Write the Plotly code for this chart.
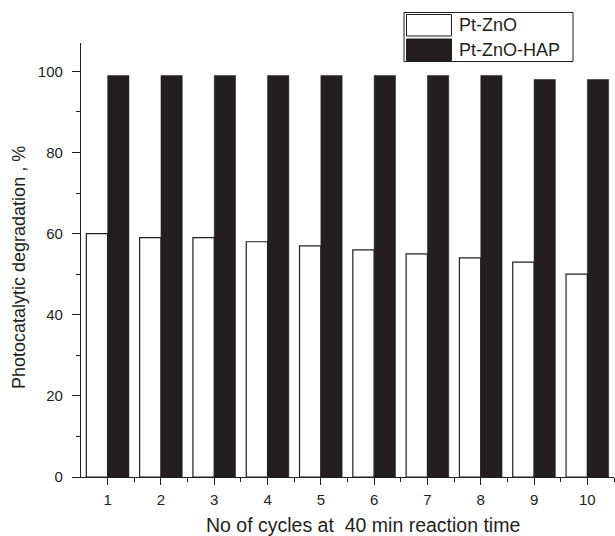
import plotly.graph_objects as go

cycles = [1, 2, 3, 4, 5, 6, 7, 8, 9, 10]
pt_zno = [60, 59, 59, 58, 57, 56, 55, 54, 53, 50]
pt_zno_hap = [99, 99, 99, 99, 99, 99, 99, 99, 98, 98]
series_names = ["Pt-ZnO", "Pt-ZnO-HAP"]
y_ticks = [0, 20, 40, 60, 80, 100]
x_title = "No of cycles at \u00a040 min reaction time"
y_title = "Photocatalytic degradation , %"

INK = "#231f20"
FONT = "Liberation Sans, Arial, sans-serif"

fig = go.Figure()
fig.add_trace(go.Bar(x=cycles, y=pt_zno, name=series_names[0],
                     marker=dict(color="white", line=dict(color=INK, width=1.2)),
                     showlegend=False))
fig.add_trace(go.Bar(x=cycles, y=pt_zno_hap, name=series_names[1],
                     marker=dict(color=INK, line=dict(color=INK, width=0.5)),
                     showlegend=False))

W, H = 615, 536
L, R, T, B = 81, 1, 43, 59
pw, ph = W - L - R, H - T - B

def px(x):
    return (x - L) / pw

def py(y):
    return (H - B - y) / ph

shapes = [
    dict(type="rect", xref="paper", yref="paper", x0=px(404), x1=px(573), y0=py(61.5), y1=py(12.5),
         line=dict(color=INK, width=1), fillcolor="white", layer="above"),
    dict(type="rect", xref="paper", yref="paper", x0=px(406.5), x1=px(451.5), y0=py(36), y1=py(14.5),
         line=dict(color=INK, width=1), fillcolor="white", layer="above"),
    dict(type="rect", xref="paper", yref="paper", x0=px(406.5), x1=px(451.5), y0=py(60.5), y1=py(39),
         line=dict(color=INK, width=1), fillcolor=INK, layer="above"),
]
tfont = dict(size=18, color=INK, family=FONT)
annotations = [
    dict(xref="paper", yref="paper", x=px(457), y=py(25), text=series_names[0], showarrow=False,
         xanchor="left", yanchor="middle", font=tfont),
    dict(xref="paper", yref="paper", x=px(457), y=py(50), text=series_names[1], showarrow=False,
         xanchor="left", yanchor="middle", font=tfont),
    dict(xref="paper", yref="paper", x=px(363), y=py(525), text=x_title, showarrow=False,
         xanchor="center", yanchor="middle", font=dict(size=19.5, color=INK, family=FONT)),
    dict(xref="paper", yref="paper", x=px(19), y=py(268), text=y_title, showarrow=False, textangle=-90,
         xanchor="center", yanchor="middle", font=tfont),
]

fig.update_layout(
    width=W, height=H,
    margin=dict(l=L, r=R, t=T, b=B, autoexpand=False),
    paper_bgcolor="white", plot_bgcolor="white",
    barmode="group", bargap=0.2, bargroupgap=0,
    font=dict(family=FONT, color=INK),
    shapes=shapes, annotations=annotations,
    xaxis=dict(range=[0.5, 10.5], tickmode="array", tickvals=cycles, ticktext=[str(c) for c in cycles],
               automargin=False,
               showgrid=False, zeroline=False, showline=True, linecolor=INK, linewidth=1.3,
               ticks="outside", ticklen=7, tickwidth=1.3, tickcolor=INK,
               tickfont=dict(size=15, color=INK), ticklabelstandoff=2,
               minor=dict(tickvals=[c + 0.5 for c in cycles[:-1]] + [10.5], ticks="outside", ticklen=4, tickwidth=1.3, tickcolor=INK)),
    yaxis=dict(range=[0, 107], tickmode="array", tickvals=y_ticks,
               automargin=False,
               showgrid=False, zeroline=False, showline=True, linecolor=INK, linewidth=1.3,
               ticks="outside", ticklen=8, tickwidth=1.3, tickcolor=INK,
               tickfont=dict(size=15, color=INK), ticklabelstandoff=6,
               minor=dict(tickvals=[10, 30, 50, 70, 90], ticks="outside", ticklen=4, tickwidth=1.3, tickcolor=INK)),
)

fig.write_html("out.html", config={"displayModeBar": False},
               post_script="document.body.style.margin='0';document.body.style.overflow='hidden';")
